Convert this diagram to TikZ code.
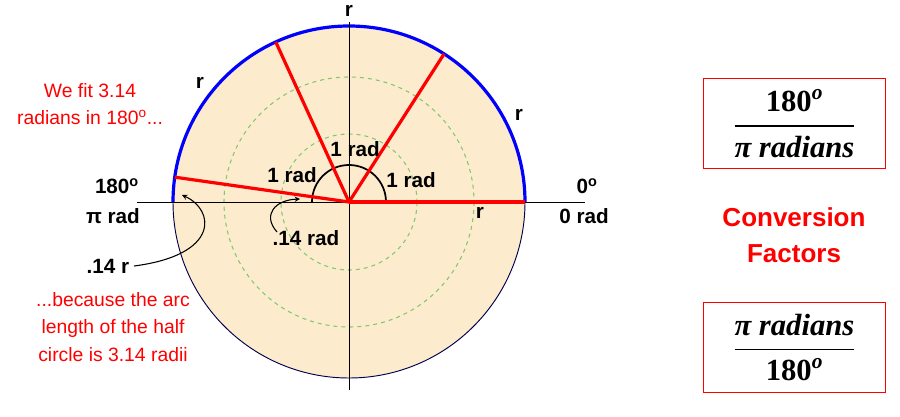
\documentclass[tikz,border=0pt]{standalone}
\usepackage{amsmath}
\usepackage{fontspec}
\setmainfont{Liberation Sans}
\newfontfamily\bser{Liberation Serif}
\definecolor{peach}{RGB}{252,236,205}
\definecolor{gd}{RGB}{130,200,110}
\newcommand{\bfrac}[2]{\mbox{\fontsize{23}{26}\selectfont\bser\bfseries$\dfrac{\text{#1}}{\text{#2}}$}}
\begin{document}
\begin{tikzpicture}[x=0.75pt,y=-0.75pt,
 lab/.style={font=\fontsize{15.5}{17}\selectfont\bfseries},
 note/.style={font=\fontsize{14.5}{20}\selectfont,text=red,align=center},
 box/.style={draw=red,line width=0.9pt,minimum width=137pt,minimum height=68pt},
 gdash/.style={draw=gd,dashed,line width=0.8pt}]
\useasboundingbox (0,0) rectangle (900,417);
\coordinate (O) at (349,202);
\fill[peach] (O) circle (176);
\draw[gdash] (O) circle (125);
\draw[gdash] (O) circle (68);
\draw[black!70!blue,line width=0.7pt] (O) circle (176);
\draw[blue,line width=2.4pt] (O) ++(176,0) arc (0:-180:176);
\draw[line width=0.6pt] (349,22) -- (349,390);
\draw[line width=0.6pt] (137,202) -- (585,202);
\draw[line width=1.3pt] (O) ++(37,0) arc (0:-180:37);
\foreach \a in {0,-57.2958,-114.5916,-171.8873}
  \draw[red,line width=2.4pt] (O) -- ++(\a:176);
\node[lab] (r1) at (349,11) {r};
\node[lab] (r2) at (200,83) {r};
\node[lab] (r3) at (519,115) {r};
\node[lab] (r4) at (480,213) {r};
\node[lab] (z1) at (587,186) {0\textsuperscript{o}};
\node[lab] (z2) at (584,216) {0 rad};
\node[lab] (p1) at (117,186) {180\textsuperscript{o}};
\node[lab] (p2) at (113,216) {π rad};
\node[lab] (a1) at (355,149) {1 rad};
\node[lab] (a2) at (292,175) {1 rad};
\node[lab] (a3) at (411,180) {1 rad};
\node[lab] (s1) at (108,266) {.14 r};
\node[lab] (s2) at (306,238) {.14 rad};
\draw[-stealth,line width=0.8pt] (s1.east) .. controls (220,255) and (215,210) .. (182,195);
\draw[-stealth,line width=0.8pt] (277,232) .. controls (262,215) and (275,200) .. (300,199);
\node[note] (n1) at (90,104) {We fit 3.14\\radians in 180\textsuperscript{o}...};
\node[note,font=\fontsize{14.5}{20.5}\selectfont] (n2) at (113,327) {...because the arc\\length of the half\\circle is 3.14 radii};
\node[box] (b1) at (794.5,123.5) {\bfrac{180\textsuperscript{\itshape o}}{\itshape π radians}};
\node[box] (b2) at (794.5,347.5) {\bfrac{\itshape π radians}{180\textsuperscript{\itshape o}}};
\node[font=\fontsize{19.5}{27}\selectfont\bfseries,text=red,align=center] (cf) at (794,235) {Conversion\\Factors};
\end{tikzpicture}
\end{document}
